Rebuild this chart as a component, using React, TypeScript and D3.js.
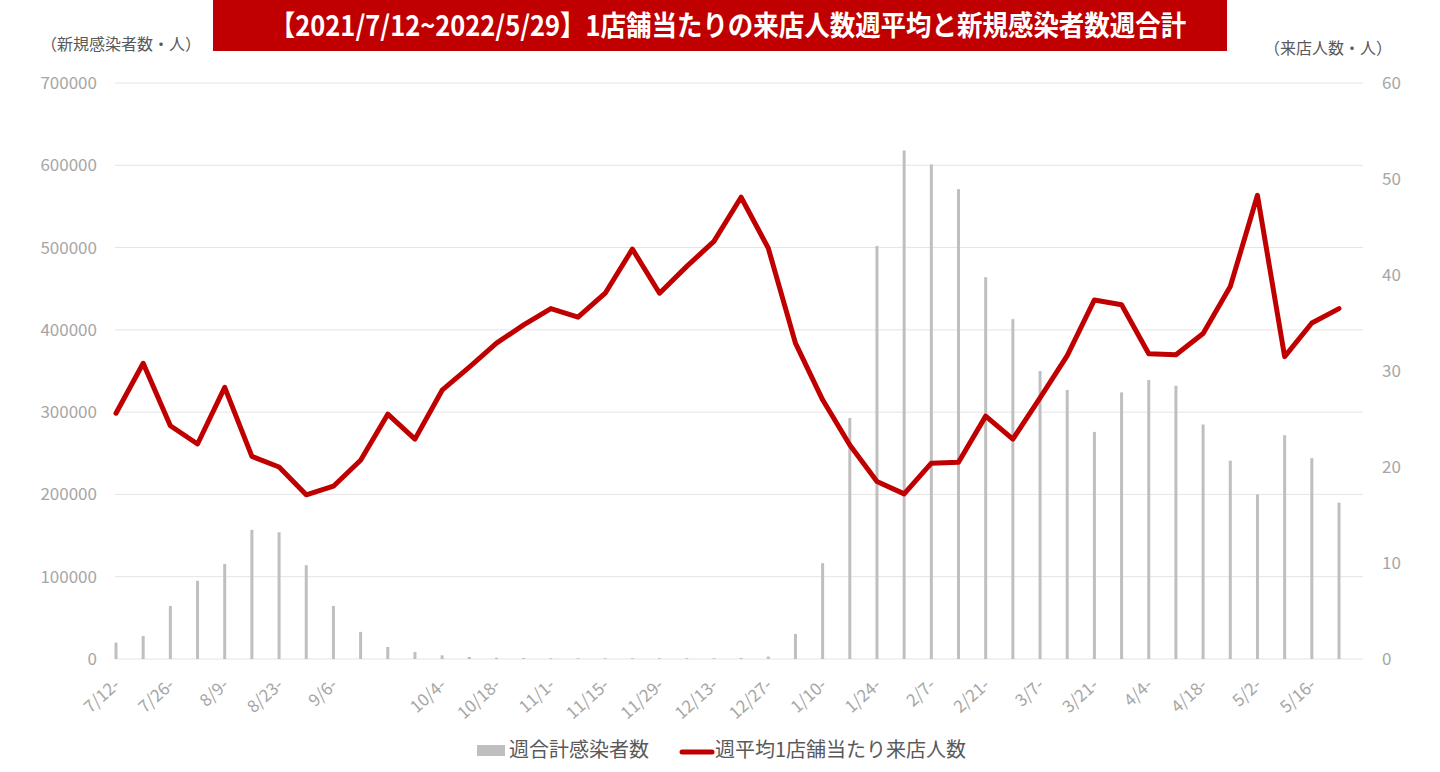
import React from "react";
import * as d3 from "d3";

const weeks = [
  "7/12-", "7/19-", "7/26-", "8/2-", "8/9-", "8/16-", "8/23-", "8/30-", "9/6-", "9/13-",
  "9/20-", "9/27-", "10/4-", "10/11-", "10/18-", "10/25-", "11/1-", "11/8-", "11/15-", "11/22-",
  "11/29-", "12/6-", "12/13-", "12/20-", "12/27-", "1/3-", "1/10-", "1/17-", "1/24-", "1/31-",
  "2/7-", "2/14-", "2/21-", "2/28-", "3/7-", "3/14-", "3/21-", "3/28-", "4/4-", "4/11-",
  "4/18-", "4/25-", "5/2-", "5/9-", "5/16-", "5/23-",
];
const shownLabels = [
  "7/12-", "7/26-", "8/9-", "8/23-", "9/6-", "10/4-", "10/18-", "11/1-", "11/15-", "11/29-",
  "12/13-", "12/27-", "1/10-", "1/24-", "2/7-", "2/21-", "3/7-", "3/21-", "4/4-", "4/18-",
  "5/2-", "5/16-",
];
const infections = [
  20000, 28000, 64500, 95000, 115500, 157000, 154000, 114000, 64500, 33000,
  14600, 8500, 4500, 2500, 1500, 1200, 1000, 1000, 1000, 1000,
  1000, 1000, 1000, 1200, 3000, 30500, 116500, 293000, 502000, 618000,
  601000, 571000, 464000, 413000, 350000, 327000, 276000, 324000, 339000, 332000,
  285000, 241000, 200000, 272000, 244000, 190000,
];
const visitors = [
  25.6, 30.8, 24.3, 22.4, 28.3, 21.1, 20.0, 17.1, 18.0, 20.7,
  25.5, 22.9, 28.0, 30.4, 32.9, 34.8, 36.5, 35.6, 38.1, 42.7,
  38.1, 40.9, 43.5, 48.1, 42.8, 32.9, 27.0, 22.3, 18.5, 17.2,
  20.4, 20.5, 25.3, 22.9, 27.2, 31.6, 37.4, 36.9, 31.8, 31.7,
  33.9, 38.8, 48.3, 31.5, 35.0, 36.5,
];
const leftTicks = [0, 100000, 200000, 300000, 400000, 500000, 600000, 700000];
const rightTicks = [0, 10, 20, 30, 40, 50, 60];

const title = "【2021/7/12~2022/5/29】1店舗当たりの来店人数週平均と新規感染者数週合計";
const leftAxisTitle = "（新規感染者数・人）";
const rightAxisTitle = "（来店人数・人）";
const barLegend = "週合計感染者数";
const lineLegend = "週平均1店舗当たり来店人数";

const FONT = "'Noto Sans CJK JP', 'Noto Sans', sans-serif";
const RED = "#C00000";
const TICK = "#a6a6a6";

export default function App() {
  const W = 1440;
  const H = 772;
  const gridX0 = 115;
  const gridX1 = 1363;
  const yTop = 83;
  const yBot = 659;

  const x = d3.scalePoint<string>().domain(weeks).range([116, 1339]);
  const yL = d3.scaleLinear().domain([0, 700000]).range([yBot, yTop]);
  const yR = d3.scaleLinear().domain([0, 60]).range([yBot, yTop]);

  const line = d3
    .line<number>()
    .x((_, i) => x(weeks[i]) as number)
    .y((d) => yR(d));

  return (
    <svg
      width={W}
      height={H}
      style={{ position: "absolute", left: 0, top: 0, background: "#fff" }}
      fontFamily={FONT}
    >
      <rect x={0} y={0} width={W} height={H} fill="#fff" />
      {/* title */}
      <rect x={213} y={0} width={1014} height={51} fill={RED} />
      <text
        transform="translate(728,36) scale(0.91,1)"
        textAnchor="middle"
        fill="#fff"
        fontSize={28}
        fontWeight="bold"
      >
        {title}
      </text>
      <text x={41} y={50} fill="#595959" fontSize={16}>
        {leftAxisTitle}
      </text>
      <text x={1264} y={54} fill="#595959" fontSize={16}>
        {rightAxisTitle}
      </text>

      {/* grid */}
      {leftTicks.map((t) => (
        <line key={t} x1={gridX0} x2={gridX1} y1={yL(t)} y2={yL(t)} stroke="#e4e4e4" strokeWidth={1} />
      ))}
      {leftTicks.map((t) => (
        <text key={"l" + t} x={97} y={yL(t)} dy="0.35em" textAnchor="end" fill={TICK} fontSize={17}>
          {t}
        </text>
      ))}
      {rightTicks.map((t) => (
        <text key={"r" + t} x={1382} y={yR(t)} dy="0.35em" textAnchor="start" fill={TICK} fontSize={17}>
          {t}
        </text>
      ))}

      {/* bars */}
      {infections.map((v, i) => (
        <rect
          key={i}
          x={(x(weeks[i]) as number) - 1.5}
          y={yL(v)}
          width={3}
          height={yBot - yL(v)}
          fill="#BFBFBF"
        />
      ))}

      {/* line */}
      <path
        d={line(visitors) || ""}
        fill="none"
        stroke={RED}
        strokeWidth={5}
        strokeLinejoin="round"
        strokeLinecap="round"
      />

      {/* x labels */}
      {weeks.map((w) =>
        shownLabels.includes(w) ? (
          <text
            key={w}
            transform={`translate(${(x(w) as number) + 1},${682}) rotate(-42)`}
            textAnchor="end"
            dy="0.35em"
            fill={TICK}
            fontSize={17}
          >
            {w}
          </text>
        ) : null
      )}

      {/* legend */}
      <rect x={477} y={745} width={28} height={11} fill="#BFBFBF" />
      <text x={509} y={750} dy="0.35em" fill="#595959" fontSize={20}>
        {barLegend}
      </text>
      <line x1={682} x2={712} y1={752} y2={752} stroke={RED} strokeWidth={5} strokeLinecap="round" />
      <text x={715} y={750} dy="0.35em" fill="#595959" fontSize={20}>
        {lineLegend}
      </text>
    </svg>
  );
}
